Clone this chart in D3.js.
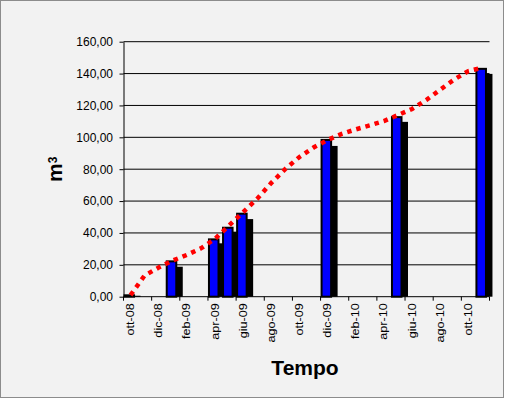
<!DOCTYPE html>
<html><head><meta charset="utf-8">
<script src="https://cdn.jsdelivr.net/npm/d3@7/dist/d3.min.js"></script>
<style>body{margin:0;background:#fff} svg{display:block} text{font-family:"Liberation Sans",Arial,sans-serif}</style>
</head><body><svg id="c" width="509" height="403"></svg>
<script>
const months = ["ott-08","nov-08","dic-08","gen-09","feb-09","mar-09","apr-09","mag-09","giu-09","lug-09","ago-09","set-09","ott-09","nov-09","dic-09","gen-10","feb-10","mar-10","apr-10","mag-10","giu-10","lug-10","ago-10","set-10","ott-10","nov-10"];
const tickLabels = ["ott-08","dic-08","feb-09","apr-09","giu-09","ago-09","ott-09","dic-09","feb-10","apr-10","giu-10","ago-10","ott-10"];
const barMonths = ["ott-08","gen-09","apr-09","mag-09","giu-09","dic-09","mag-10","nov-10"];
const blueValues = [1.5,22.8,36.6,43.9,52.7,99.0,113.3,143.6];
const blackValues = [0.6,18.8,33.5,40.8,48.7,94.6,109.7,139.8];
const lineValues = [1.0,13.3,18.3,22.7,26.2,30.3,36.3,44.7,53.1,61.5,71.4,80.2,87.7,93.6,98.3,102.1,105.0,107.5,110.2,114.0,117.8,123.4,129.9,136.3,141.6,143.6];
const yTicks = [0,20,40,60,80,100,120,140,160];

const svg = d3.select("#c");
svg.append("rect").attr("x",0.5).attr("y",0.5).attr("width",503).attr("height",397)
  .attr("fill","#f2f2f2").attr("stroke","#8c8c8c");

const L = 123.5, R = 489.5, T = 41.7, B = 296.7;
const x = d3.scaleBand().domain(months).range([L, R]).padding(0);
const y = d3.scaleLinear().domain([0,160]).range([B, T]);
const bw = x.bandwidth();

// gridlines
svg.append("g").selectAll("line").data(yTicks.filter(d=>d>0)).join("line")
  .attr("x1",L).attr("x2",R).attr("y1",d=>y(d)).attr("y2",d=>y(d))
  .attr("stroke","#000").attr("stroke-width",1);

const bars = barMonths.map((m,i)=>({m, blue:blueValues[i], black:blackValues[i]}));
// black series (behind)
svg.append("g").selectAll("rect").data(bars).join("rect")
  .attr("x",d=>x(d.m)+bw*0.43).attr("width",bw*0.78)
  .attr("y",d=>y(d.black)).attr("height",d=>B-y(d.black))
  .attr("fill","#000");
// blue series
svg.append("g").selectAll("rect").data(bars).join("rect")
  .attr("x",d=>x(d.m)+1).attr("width",bw*0.82-2)
  .attr("y",d=>y(d.blue)+1).attr("height",d=>Math.max(0,B-y(d.blue)-1))
  .attr("fill","#0000ff").attr("stroke","#000").attr("stroke-width",2);

// y axis
const yAxis = d3.axisLeft(y).tickValues(yTicks).tickSize(4).tickSizeOuter(0).tickPadding(6.5)
  .tickFormat(d=>d3.format(".2f")(d).replace(".",","));
const gy = svg.append("g").attr("transform",`translate(${L},0)`).call(yAxis);
gy.select(".domain").attr("stroke","#000");
gy.selectAll(".tick line").attr("stroke","#000");
gy.selectAll("text").attr("font-size",12).attr("fill","#000")
  .attr("font-family","'Liberation Sans',Arial,sans-serif");

// x axis line
svg.append("line").attr("x1",L).attr("x2",R).attr("y1",B).attr("y2",B).attr("stroke","#000");
// x tick marks at month boundaries (every two months + end)
const tickPos = months.filter((m,i)=>i%2===0).map(m=>x(m)).concat([R]);
svg.append("g").selectAll("line").data(tickPos).join("line")
  .attr("x1",d=>d).attr("x2",d=>d).attr("y1",B).attr("y2",B+4).attr("stroke","#000");
// x tick labels centered in slots
svg.append("g").selectAll("text").data(tickLabels).join("text")
  .attr("transform",d=>`translate(${x(d)+bw/2+3.5},${B+6.5}) rotate(-90) scale(1.15,1)`)
  .attr("text-anchor","end").attr("font-size",11).attr("fill","#000").text(d=>d);

// red line
const line = d3.line().x(d=>x(d.m)+bw/2).y(d=>y(d.v));
svg.append("path").datum(months.map((m,i)=>({m, v:lineValues[i]})))
  .attr("d",line).attr("fill","none").attr("stroke","#ff0000")
  .attr("stroke-width",4.5).attr("stroke-dasharray","4.5,5");

// axis titles
svg.append("text").attr("x",305).attr("y",375).attr("text-anchor","middle")
  .attr("font-size",21).attr("font-weight","bold").attr("fill","#000").text("Tempo");
const yt = svg.append("text").attr("transform","translate(62,182) rotate(-90)")
  .attr("text-anchor","start").attr("font-weight","bold").attr("fill","#000");
yt.append("tspan").attr("font-size",21).text("m");
yt.append("tspan").attr("font-size",12).attr("dy",-5).text("3");
</script></body></html>
